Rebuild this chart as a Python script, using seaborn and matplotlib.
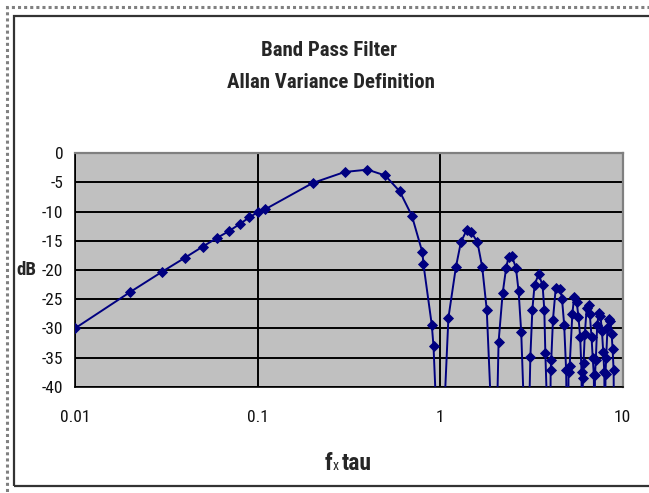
import matplotlib
matplotlib.use('Agg')
import matplotlib.pyplot as plt
import seaborn as sns
import pandas as pd
from matplotlib.patches import Rectangle
from matplotlib.ticker import FixedLocator, FixedFormatter, NullLocator

sns.set_style('white')
plt.rcParams['font.family'] = ['Roboto Condensed', 'Liberation Sans', 'DejaVu Sans']
plt.rcParams['axes.unicode_minus'] = False

# ---------------- data ----------------
title_lines = ['Band Pass Filter', 'Allan Variance Definition']
y_label = 'dB'
x_ticks = [0.01, 0.1, 1, 10]
x_tick_labels = ['0.01', '0.1', '1', '10']
y_ticks = [-40, -35, -30, -25, -20, -15, -10, -5, 0]

# f x tau values of the plotted points
x_ftau = [0.01, 0.02, 0.03, 0.04, 0.05, 0.06, 0.07, 0.08, 0.09, 0.10, 0.11,
          0.2, 0.3, 0.4, 0.5, 0.6, 0.7, 0.8, 0.81, 0.9, 0.92, 1.0,
          1.11, 1.22, 1.3, 1.4, 1.48, 1.6, 1.7, 1.8, 2.0,
          2.09, 2.2, 2.3, 2.37, 2.47, 2.6, 2.69, 2.78, 3.0,
          3.12, 3.2, 3.29, 3.46, 3.64, 3.72, 3.77, 4.0,
          4.03, 4.06, 4.15, 4.3, 4.55, 4.65, 4.78, 4.9, 5.0,
          5.05, 5.12, 5.3, 5.42, 5.6, 5.72, 5.85, 5.95, 6.0,
          6.05, 6.1, 6.2, 6.35, 6.5, 6.6, 6.75, 6.85, 6.95, 7.0,
          7.05, 7.12, 7.25, 7.4, 7.55, 7.7, 7.82, 7.93, 8.0,
          8.05, 8.12, 8.25, 8.4, 8.55, 8.7, 8.8, 8.92, 9.0]
# response in dB (nulls fall far below the -40 dB floor of the chart)
gain_db = [-30.0, -23.8, -20.3, -17.9, -16.0, -14.5, -13.3, -12.1, -11.0, -10.1, -9.6,
           -5.1, -3.2, -2.8, -3.8, -6.5, -10.7, -17.0, -19.0, -29.4, -33.1, -60.0,
           -28.2, -19.5, -15.2, -13.1, -13.5, -15.2, -19.5, -26.8, -60.0,
           -32.3, -24.0, -19.6, -17.8, -17.6, -19.6, -23.6, -30.6, -60.0,
           -34.9, -26.8, -22.6, -20.7, -22.6, -26.8, -34.3, -60.0,
           -37.2, -35.5, -28.5, -23.0, -23.2, -24.9, -29.4, -37.2, -60.0,
           -37.5, -36.5, -27.5, -24.6, -25.5, -28.0, -31.5, -37.5, -60.0,
           -38.5, -36.0, -31.0, -26.5, -26.0, -27.5, -31.5, -35.0, -38.0, -60.0,
           -38.0, -35.5, -29.5, -27.3, -27.8, -30.5, -34.0, -37.5, -60.0,
           -37.8, -35.0, -30.0, -28.4, -28.8, -31.0, -33.5, -37.2, -60.0]

# ---------------- figure ----------------
W, H = 649, 493
fig = plt.figure(figsize=(W / 100, H / 100), dpi=100)
fig.patch.set_facecolor('white')

L, R, T, B = 75, 622.7, 153.3, 386.7
ax = fig.add_axes([L / W, 1 - B / H, (R - L) / W, (B - T) / H])
ax.set_facecolor('#C0C0C0')

df = pd.DataFrame({'ftau': x_ftau, 'dB': gain_db})
sns.lineplot(data=df, x='ftau', y='dB', ax=ax, sort=False, estimator=None,
             color='#000080', lw=1.4, marker='D', markersize=5.5,
             markeredgewidth=0.6, markeredgecolor='#000080', zorder=3)

ax.set_xscale('log')
ax.set_xlim(x_ticks[0], x_ticks[-1])
ax.set_ylim(y_ticks[0], y_ticks[-1])
ax.xaxis.set_major_locator(FixedLocator(x_ticks))
ax.xaxis.set_major_formatter(FixedFormatter(x_tick_labels))
ax.xaxis.set_minor_locator(NullLocator())
ax.yaxis.set_major_locator(FixedLocator(y_ticks))
ax.yaxis.set_minor_locator(NullLocator())
ax.set_xlabel('')
ax.set_ylabel('')

ax.set_axisbelow(True)
ax.grid(True, which='major', color='black', lw=1.4)

for s in ['left', 'bottom']:
    ax.spines[s].set_color('black')
    ax.spines[s].set_linewidth(1.2)
for s in ['top', 'right']:
    ax.spines[s].set_color('#808080')
    ax.spines[s].set_linewidth(1.6)

ax.tick_params(axis='y', direction='out', length=3.6, width=1.1, color='black',
               labelsize=12.5, pad=4.8, labelcolor='#111111')
ax.tick_params(axis='x', direction='out', length=9, width=1.1, color='black',
               labelsize=12.5, pad=7.5, labelcolor='#111111')

# titles
fig.text(329 / W, 1 - 50 / H, title_lines[0], ha='center', va='center',
         fontsize=15, fontweight='bold')
fig.text(331 / W, 1 - 82 / H, title_lines[1], ha='center', va='center',
         fontsize=15, fontweight='bold')

# y label
fig.text(26.7 / W, 1 - 270 / H, y_label, ha='center', va='center',
         fontsize=13.5, fontweight='bold')

# x label: f x tau
fig.text(325 / W, 1 - 470 / H, 'f', ha='left', va='baseline',
         fontsize=17, fontweight='bold')
fig.text(333 / W, 1 - 470 / H, 'x', ha='left', va='baseline',
         fontsize=10)
fig.text(342 / W, 1 - 470 / H, 'tau', ha='left', va='baseline',
         fontsize=17, fontweight='bold')

# chart frames
fig.add_artist(Rectangle((7 / W, -0.2), 2.0, (1 - 6.5 / H) + 0.2,
                         transform=fig.transFigure, fill=False,
                         edgecolor='#808080', lw=2.2, linestyle=(0, (1, 1))))
fig.add_artist(Rectangle((14 / W, 1 - 486 / H), 2.0, (486 - 16) / H,
                         transform=fig.transFigure, fill=False,
                         edgecolor='#333333', lw=1.6))

fig.savefig('out.png', dpi=100, facecolor='white')
